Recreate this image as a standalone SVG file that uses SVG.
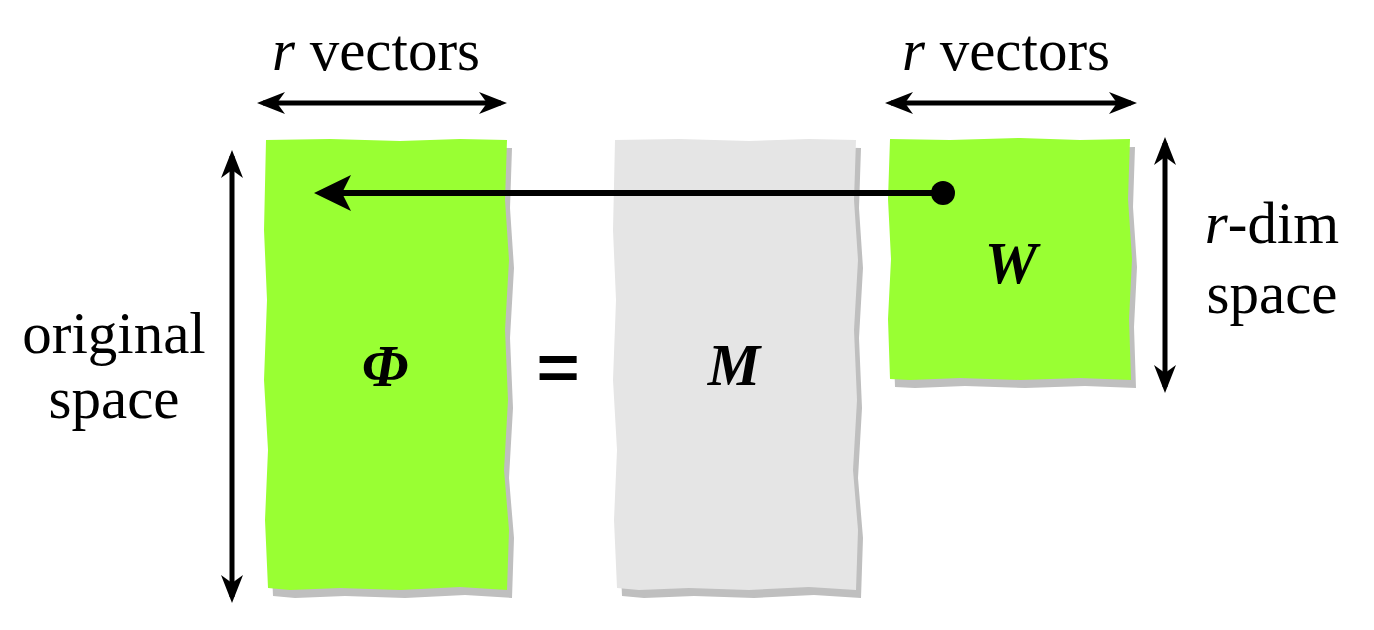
<svg xmlns="http://www.w3.org/2000/svg" width="1374" height="630" viewBox="0 0 1374 630">
<style>
.t{font-family:"Liberation Serif","Times New Roman",serif;font-size:59px;fill:#000}
.it{font-style:italic}
.bi{font-style:italic;font-weight:bold}
.shadow{fill:#bfbfbf}
.green{fill:#99ff33}
.gray{fill:#e5e5e5}
.arr{stroke:#000;stroke-width:5;fill:none;marker-start:url(#ah);marker-end:url(#ah)}
</style>
<defs>
<marker id="ah" markerUnits="userSpaceOnUse" viewBox="-32 -13 36 26" markerWidth="36" markerHeight="26" refX="-6" refY="0" orient="auto-start-reverse" overflow="visible">
<path d="M0,0 L-28,-11 L-20,0 L-28,11 Z" fill="#000"/>
</marker>
<marker id="ahb" markerUnits="userSpaceOnUse" viewBox="-40 -20 44 40" markerWidth="44" markerHeight="40" refX="-8" refY="0" orient="auto" overflow="visible">
<path d="M0,0 L-37,-18 L-28,0 L-37,18 Z" fill="#000"/>
</marker>
<path id="tall" d="M0,1 L64,0 L134,2 L194,0 L241,1 L239,61 L243,121 L239,191 L242,261 L238,331 L243,391 L241,451 L194,448 L134,451 L74,449 L24,451 L2,449 L-1,381 L2,311 L-2,241 L1,161 L-2,91 Z"/>
<path id="sq" d="M0,0 L60,1 L130,-1 L190,1 L240,0 L238,60 L242,120 L239,180 L241,241 L190,239 L130,241 L70,239 L20,241 L0,240 L-2,180 L1,120 L-2,60 Z"/>
</defs>

<g id="node-phi">
<use href="#tall" class="shadow" transform="translate(271,147)"/>
<use href="#tall" class="green" transform="translate(266,139)"/>
<text class="t bi" x="385" y="386" text-anchor="middle" font-size="62">Φ</text>
</g>

<g id="node-eq">
<text x="558" y="393" text-anchor="middle" font-family="'Liberation Sans',Arial,sans-serif" font-weight="bold" font-size="74" transform="translate(558,367) scale(1,0.85) translate(-558,-367)">=</text>
</g>

<g id="node-m">
<use href="#tall" class="shadow" transform="translate(620,147)"/>
<use href="#tall" class="gray" transform="translate(615,139)"/>
<text class="t bi" x="734" y="385" text-anchor="middle">M</text>
</g>

<g id="node-w">
<use href="#sq" class="shadow" transform="translate(895,147)"/>
<use href="#sq" class="green" transform="translate(890,139)"/>
<text class="t bi" x="1011" y="283" text-anchor="middle">W</text>
</g>

<g id="label-left-top">
<text class="t" x="376" y="70" text-anchor="middle"><tspan class="it">r</tspan> vectors</text>
</g>
<g id="label-right-top">
<text class="t" x="1006" y="70" text-anchor="middle"><tspan class="it">r</tspan> vectors</text>
</g>
<g id="label-original">
<text class="t" x="114" y="353" text-anchor="middle">original</text>
<text class="t" x="114" y="418" text-anchor="middle">space</text>
</g>
<g id="label-rdim">
<text class="t" x="1272" y="243" text-anchor="middle"><tspan class="it">r</tspan>-dim</text>
<text class="t" x="1272" y="313" text-anchor="middle">space</text>
</g>

<g id="connectors">
<line class="arr" x1="263" y1="103" x2="501" y2="103"/>
<line class="arr" x1="891" y1="103" x2="1131" y2="103"/>
<line class="arr" x1="232" y1="156" x2="232" y2="597"/>
<line class="arr" x1="1165" y1="143" x2="1165" y2="387"/>
<line x1="943" y1="193" x2="322" y2="193" stroke="#000" stroke-width="6" marker-end="url(#ahb)"/>
<circle cx="943" cy="193" r="12" fill="#000"/>
</g>
</svg>
